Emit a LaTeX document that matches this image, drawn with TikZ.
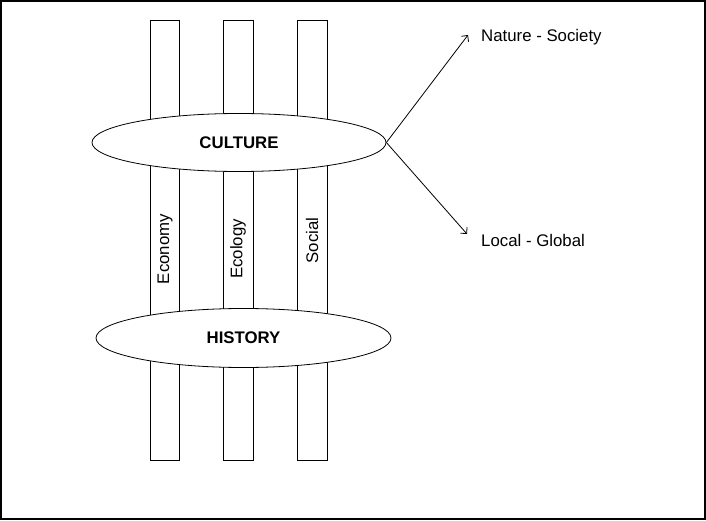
\documentclass[tikz,border=0pt]{standalone}
\usepackage{fontspec}
\setmainfont{Liberation Sans}
\usetikzlibrary{shapes.geometric,arrows.meta}
\begin{document}
\begin{tikzpicture}[x=1pt,y=-1pt,
  thin line/.style={line width=0.8pt},
  bar/.style={draw,thin line,minimum width=29.5pt,minimum height=440pt,inner sep=0pt},
  oval/.style={ellipse,draw,thin line,fill=white,inner sep=0pt,font=\fontsize{16.8}{19}\selectfont\bfseries},
  lbl/.style={font=\fontsize{16.8}{19}\selectfont,inner sep=0pt},
  vlbl/.style={lbl,rotate=90},
  conn/.style={thin line,-{Straight Barb[length=4.5pt,width=9pt]}}]
\useasboundingbox (0,0) rectangle (706,521);
\node[draw,line width=2pt,minimum width=704pt,minimum height=518.5pt,inner sep=0pt] (frame) at (353,260.2) {};
% bars
\node[bar] (b1) at (165,240.7) {};
\node[bar] (b2) at (238.5,240.7) {};
\node[bar] (b3) at (312.5,240.7) {};
% ovals
\node[oval,minimum width=294pt,minimum height=58pt] (culture) at (239,142.5) {CULTURE};
\node[oval,minimum width=295pt,minimum height=59pt] (history) at (243.5,338) {HISTORY};
% vertical labels
\node[vlbl] (eco) at (165,249) {Economy};
\node[vlbl] (ecol) at (238,249) {Ecology};
\node[vlbl] (soc) at (312,240.5) {Social};
% right labels
\node[lbl,anchor=west] (ns) at (481,37) {Nature - Society};
\node[lbl,anchor=west] (lg) at (481,240) {Local - Global};
\coordinate (nsend) at (468,35);
\coordinate (lgend) at (467,234);
\draw[conn] (culture.east) -- (nsend);
\draw[conn] (culture.east) -- (lgend);
\end{tikzpicture}
\end{document}
